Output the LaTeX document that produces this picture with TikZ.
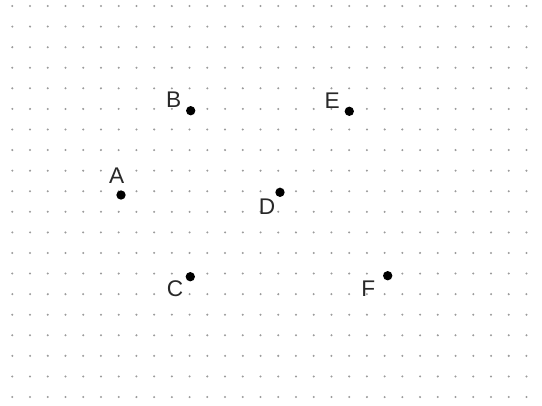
\documentclass[tikz,border=0pt]{standalone}
\usepackage{fontspec}
\setmainfont{Liberation Sans}
\definecolor{dotgray}{RGB}{155,155,155}
\definecolor{lblgray}{RGB}{40,40,40}

\begin{document}
\begin{tikzpicture}[x=0.75pt, y=-0.75pt,
  pt/.style={circle, fill=black, inner sep=0pt, minimum size=7pt},
  lbl/.style={inner sep=0pt, text=lblgray, font=\fontsize{17}{20}\selectfont}]
\useasboundingbox (0,0) rectangle (542,405);
% dot grid
\foreach \i in {0,...,29}
  \foreach \j in {0,...,19}
    \fill[dotgray] ({12.3+17.73*\i}, {6+20.58*\j}) circle (0.85pt);
% points
\node[pt] (ptA) at (121,195) {};
\node[pt] (ptB) at (190.7,110.7) {};
\node[pt] (ptC) at (190.3,276.7) {};
\node[pt] (ptD) at (280,192.3) {};
\node[pt] (ptE) at (349.3,111.3) {};
\node[pt] (ptF) at (387.7,275.7) {};
% labels
\node[lbl] (labA) at (116.7,176) {A};
\node[lbl] (labB) at (173.8,99.5) {B};
\node[lbl] (labC) at (175,288.5) {C};
\node[lbl] (labD) at (267,206.7) {D};
\node[lbl] (labE) at (332.3,100.7) {E};
\node[lbl] (labF) at (368.3,288.3) {F};
\end{tikzpicture}
\end{document}
